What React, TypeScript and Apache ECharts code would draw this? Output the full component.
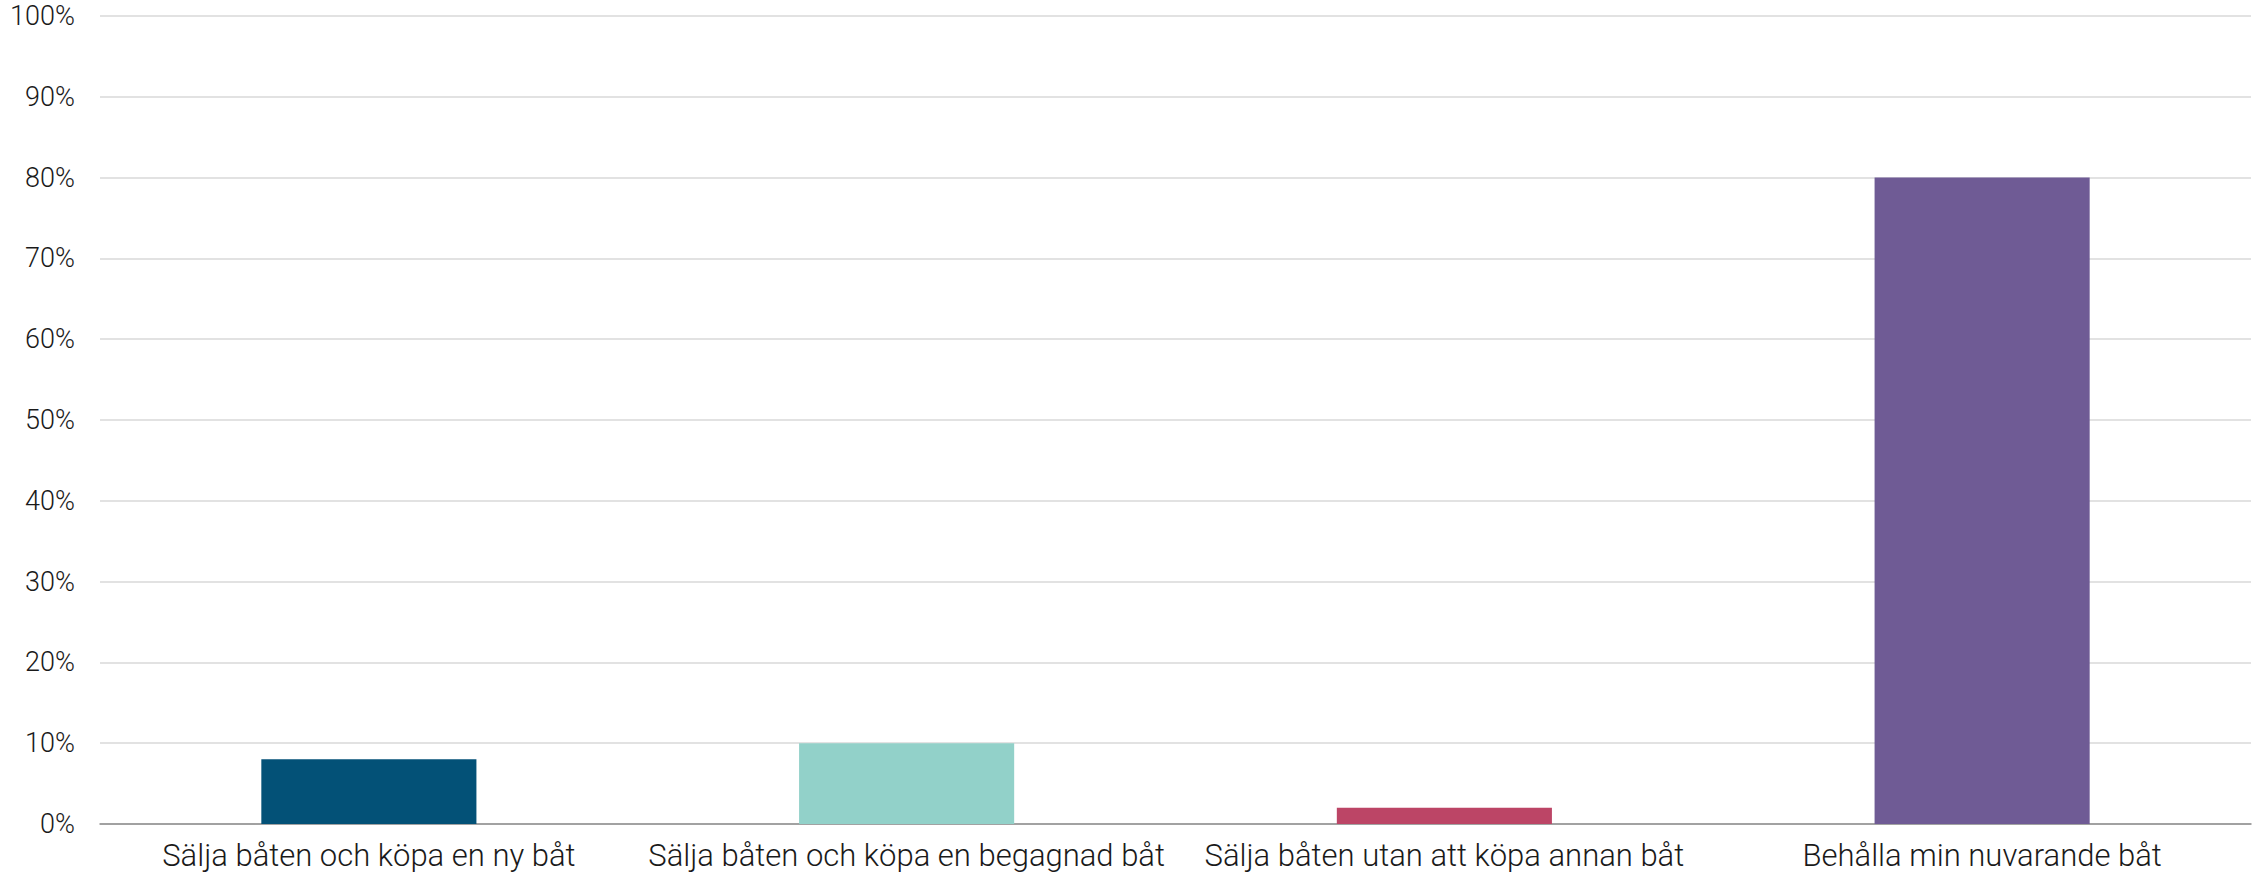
import React, { useEffect, useRef } from "react";
import * as echarts from "echarts";

const categories = [
  "Sälja båten och köpa en ny båt",
  "Sälja båten och köpa en begagnad båt",
  "Sälja båten utan att köpa annan båt",
  "Behålla min nuvarande båt",
];
const values = [8, 10, 2, 80];
const colors = ["#035177", "#92D1C9", "#BC4566", "#6F5B95"];

export default function App() {
  const ref = useRef<HTMLDivElement>(null);
  useEffect(() => {
    if (!ref.current) return;
    const chart = echarts.init(ref.current, null, { renderer: "svg" });
    chart.setOption({
      animation: false,
      grid: { left: 100, right: 1, top: 16, bottom: 52, containLabel: false },
      xAxis: {
        type: "category",
        data: categories,
        axisTick: { show: false },
        axisLine: { lineStyle: { color: "#8c8c8c", width: 1.5 } },
        axisLabel: {
          color: "#1a1a1a",
          fontFamily: "Roboto",
          fontWeight: 300,
          fontSize: 31,
          margin: 16,
          interval: 0,
        },
      },
      yAxis: {
        type: "value",
        min: 0,
        max: 100,
        interval: 10,
        axisLabel: {
          formatter: "{value}%",
          color: "#1a1a1a",
          fontFamily: "Roboto",
          fontWeight: 300,
          fontSize: 27,
          margin: 25,
        },
        splitLine: { lineStyle: { color: "#d9d9d9", width: 1.5 } },
        axisLine: { show: false },
        axisTick: { show: false },
      },
      series: [
        {
          type: "bar",
          barWidth: "40%",
          data: values.map((v, i) => ({ value: v, itemStyle: { color: colors[i] } })),
        },
      ],
    });
    return () => chart.dispose();
  }, []);
  return <div ref={ref} style={{ width: 2252, height: 876, position: "absolute", left: 0, top: 0 }} />;
}
